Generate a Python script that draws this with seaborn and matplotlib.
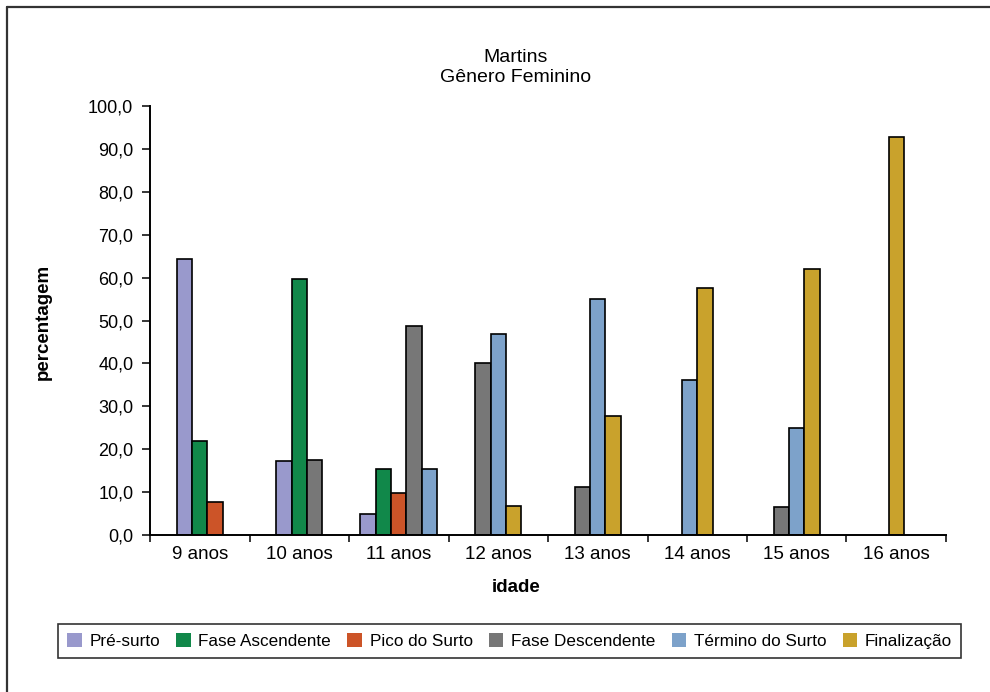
import numpy as np
import pandas as pd
import matplotlib
matplotlib.use("Agg")
import matplotlib.pyplot as plt
from matplotlib.patches import Patch
from matplotlib.lines import Line2D
import seaborn as sns

# ---- data -----------------------------------------------------------------
categorias = ["9 anos", "10 anos", "11 anos", "12 anos",
              "13 anos", "14 anos", "15 anos", "16 anos"]

fases = ["Pré-surto", "Fase Ascendente", "Pico do Surto",
         "Fase Descendente", "Término do Surto", "Finalização"]

pre_surto        = [64.3, 17.3,  5.0, None, None, None, None, None]
fase_ascendente  = [21.8, 59.7, 15.5, None, None, None, None, None]
pico_do_surto    = [ 7.7, None,  9.9, None, None, None, None, None]
fase_descendente = [None, 17.5, 48.8, 40.2, 11.3, None,  6.5, None]
termino_do_surto = [None, None, 15.5, 46.9, 55.0, 36.2, 25.0, None]
finalizacao      = [None, None, None,  6.8, 27.7, 57.5, 62.0, 92.8]

cores = ["#9999CC", "#11884A", "#CC5428", "#777777", "#7DA2CA", "#C9A22C"]

series = [pre_surto, fase_ascendente, pico_do_surto,
          fase_descendente, termino_do_surto, finalizacao]

# ---- long table: only the phases present in each age, packed side by side --
LARGURA = 0.155
linhas = []
for i, cat in enumerate(categorias):
    presentes = [(f, s[i]) for f, s in zip(fases, series) if s[i] is not None]
    n = len(presentes)
    for k, (f, v) in enumerate(presentes):
        pos = round(i + (k - (n - 1) / 2) * LARGURA, 4)
        linhas.append({"idade": cat, "fase": f, "pct": v, "pos": pos})
df = pd.DataFrame(linhas)

# ---- style ------------------------------------------------------------------
sns.set_theme(style="white")
plt.rcParams["font.family"] = ["Liberation Sans", "DejaVu Sans"]

W, H = 990, 692
fig = plt.figure(figsize=(W / 100, H / 100), dpi=100)
ax = fig.add_axes([150 / W, 1 - 535 / H, (946 - 150) / W, (535 - 106) / H])

sns.barplot(data=df, x="pos", y="pct", hue="fase", hue_order=fases,
            palette=cores, saturation=1, native_scale=True, dodge=False,
            width=1.0, errorbar=None, edgecolor="black", linewidth=1.2,
            legend=False, ax=ax)

# ---- axes -------------------------------------------------------------------
ax.set_xlim(-0.5, len(categorias) - 0.5)
ax.set_ylim(0, 100)
ax.set_xlabel("")
ax.set_ylabel("")

yt = np.arange(0, 101, 10)
ax.set_yticks(yt)
ax.set_yticklabels([f"{v:.1f}".replace(".", ",") for v in yt], fontsize=13)

ax.set_xticks(np.arange(-0.5, len(categorias), 1.0))
ax.set_xticklabels([])
ax.set_xticks(np.arange(len(categorias)), minor=True)
ax.set_xticklabels(categorias, minor=True, fontsize=13.5)

ax.tick_params(axis="y", which="major", direction="out", length=6,
               width=1.1, color="black", pad=6, left=True, labelcolor="black")
ax.tick_params(axis="x", which="major", direction="out", length=5,
               width=1.1, color="black", bottom=True)
ax.tick_params(axis="x", which="minor", length=0, pad=8, labelcolor="black")

for lado in ["top", "right"]:
    ax.spines[lado].set_visible(False)
for lado in ["left", "bottom"]:
    ax.spines[lado].set_color("black")
    ax.spines[lado].set_linewidth(1.4)
ax.grid(False)

# ---- titles and labels --------------------------------------------------------
fig.text(516 / W, 1 - 67.5 / H, "Martins\nGênero Feminino",
         ha="center", va="center", fontsize=14, color="black",
         linespacing=1.2)
fig.text(43 / W, 1 - 322 / H, "percentagem", rotation=90,
         ha="center", va="center", fontsize=13.5, fontweight="bold",
         color="black")
fig.text(516 / W, 1 - 588 / H, "idade", ha="center", va="center",
         fontsize=13.5, fontweight="bold", color="black")

# ---- legend -------------------------------------------------------------------
alcas = [Patch(facecolor=c, edgecolor="none", label=f)
         for f, c in zip(fases, cores)]
leg = fig.legend(handles=alcas, loc="center",
                 bbox_to_anchor=(509.5 / W, 1 - 641 / H),
                 ncol=6, fontsize=12.3, frameon=True, fancybox=False,
                 handlelength=0.85, handleheight=0.85, handletextpad=0.45,
                 columnspacing=0.95, borderpad=0.55, borderaxespad=0)
leg.get_frame().set_edgecolor("black")
leg.get_frame().set_linewidth(1.2)
for t in leg.get_texts():
    t.set_color("black")

# ---- outer frame --------------------------------------------------------------
fig.add_artist(Line2D([7 / W, 1], [1 - 7 / H, 1 - 7 / H],
                      transform=fig.transFigure, color="#333333", lw=1.6))
fig.add_artist(Line2D([7 / W, 7 / W], [1 - 7 / H, 0],
                      transform=fig.transFigure, color="#333333", lw=1.6))

fig.savefig("out.png", dpi=100, facecolor="white")
